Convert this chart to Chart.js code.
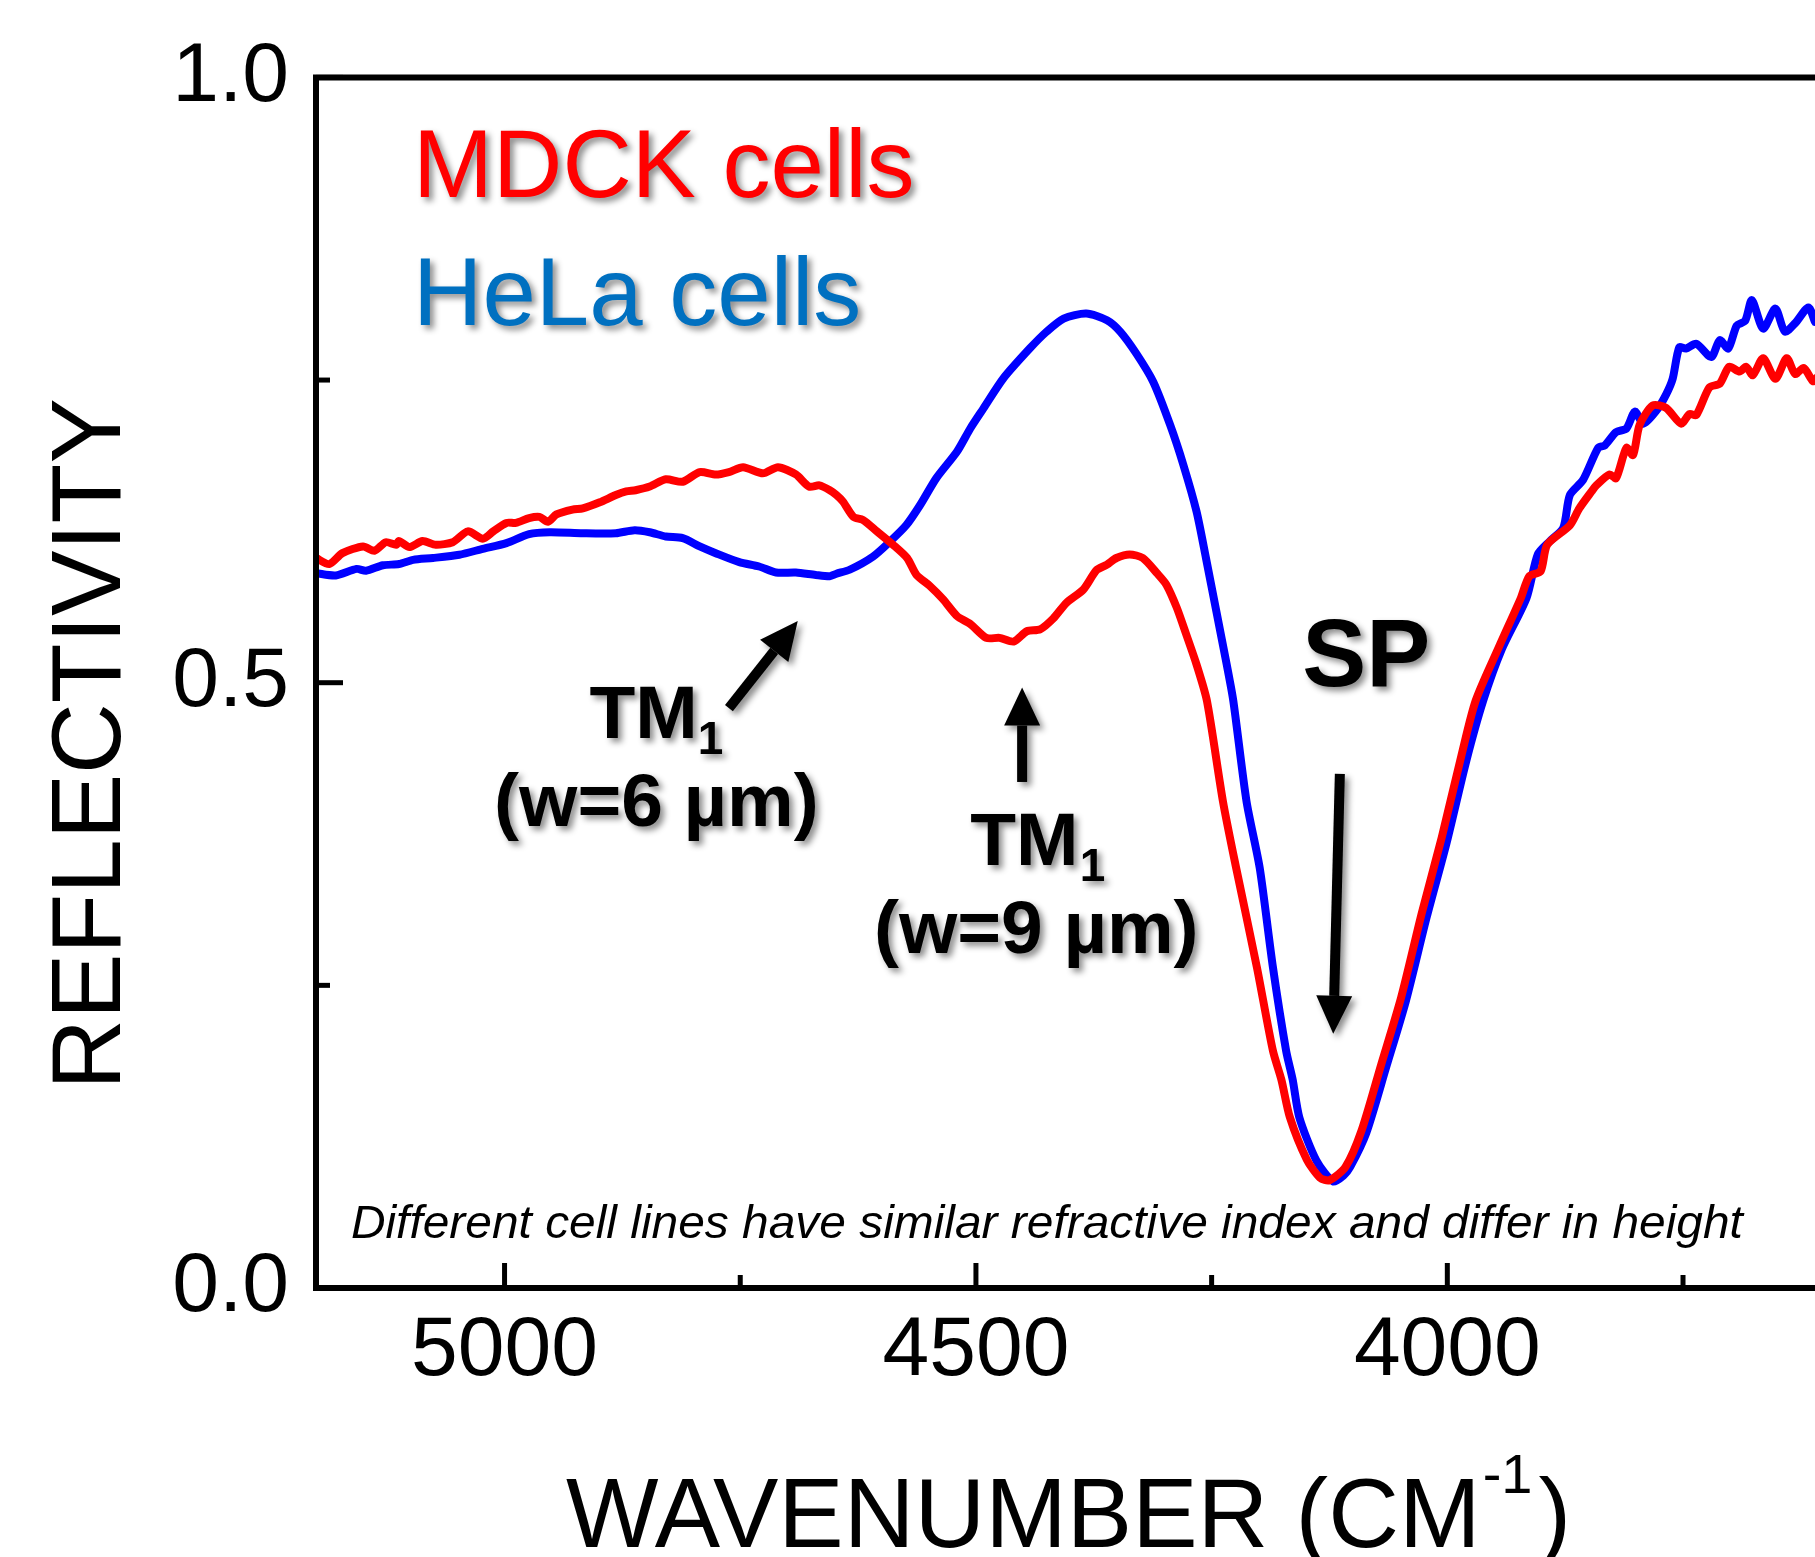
<!DOCTYPE html>
<html>
<head>
<meta charset="utf-8">
<script src="https://cdn.jsdelivr.net/npm/chart.js@4.4.0/dist/chart.umd.min.js"></script>
<style>
  html, body { margin: 0; padding: 0; background: #fff; overflow: hidden; }
  #wrap { width: 1815px; height: 1557px; position: relative; }
</style>
</head>
<body>
<div id="wrap"><canvas id="grafico"></canvas></div>
<script>
// wavenumber (cm-1) and reflectivity
const mdckWn = [5200, 5186, 5172, 5150, 5138, 5126, 5115, 5112, 5101, 5087, 5073, 5055, 5039, 5023, 5012, 4998, 4988, 4974, 4963, 4954, 4945, 4928, 4917, 4899, 4882, 4871, 4861, 4846, 4829, 4811, 4793, 4776, 4762, 4747, 4726, 4710, 4691, 4677, 4666, 4655, 4648, 4641, 4630, 4620, 4605, 4588, 4573, 4563, 4549, 4535, 4520, 4506, 4489, 4475, 4460, 4446, 4432, 4418, 4404, 4386, 4372, 4361, 4351, 4337, 4323, 4308, 4298, 4287, 4277, 4266, 4255, 4238, 4224, 4202, 4185, 4176, 4167, 4149, 4135, 4125, 4108, 4091, 4070, 4049, 4027, 4006, 3985, 3970, 3945, 3922, 3913, 3901, 3894, 3870, 3860, 3847, 3842, 3828, 3821, 3810, 3803, 3796, 3782, 3768, 3752, 3743, 3736, 3722, 3711, 3701, 3690, 3683, 3676, 3665, 3652, 3640, 3631, 3622, 3612, 3608];
const mdckR = [0.603, 0.598, 0.607, 0.6125, 0.609, 0.616, 0.614, 0.617, 0.612, 0.617, 0.614, 0.616, 0.625, 0.619, 0.625, 0.632, 0.632, 0.636, 0.637, 0.633, 0.639, 0.643, 0.644, 0.649, 0.655, 0.658, 0.659, 0.662, 0.668, 0.666, 0.674, 0.672, 0.674, 0.678, 0.673, 0.678, 0.672, 0.662, 0.663, 0.659, 0.655, 0.6496, 0.637, 0.6345, 0.625, 0.614, 0.603, 0.589, 0.580, 0.569, 0.555, 0.5485, 0.537, 0.537, 0.534, 0.5425, 0.544, 0.553, 0.566, 0.577, 0.593, 0.5975, 0.603, 0.606, 0.603, 0.5905, 0.581, 0.562, 0.540, 0.515, 0.485, 0.402, 0.347, 0.265, 0.196, 0.172, 0.141, 0.106, 0.091, 0.089, 0.100, 0.130, 0.185, 0.240, 0.310, 0.372, 0.440, 0.485, 0.530, 0.570, 0.588, 0.592, 0.614, 0.630, 0.644, 0.658, 0.663, 0.672, 0.669, 0.694, 0.688, 0.713, 0.729, 0.727, 0.714, 0.722, 0.721, 0.744, 0.747, 0.761, 0.757, 0.761, 0.754, 0.768, 0.751, 0.768, 0.755, 0.760, 0.749, 0.752];

const helaWn = [5200, 5179, 5157, 5147, 5129, 5112, 5097, 5076, 5048, 5023, 4998, 4974, 4952, 4917, 4882, 4862, 4846, 4829, 4811, 4793, 4776, 4751, 4730, 4712, 4691, 4670, 4655, 4648, 4634, 4609, 4591, 4574, 4559, 4542, 4520, 4506, 4492, 4471, 4443, 4425, 4407, 4383, 4361, 4347, 4330, 4312, 4294, 4280, 4266, 4256, 4245, 4234, 4227, 4213, 4199, 4185, 4171, 4164, 4157, 4139, 4121, 4110, 4103, 4086, 4065, 4044, 4022, 4001, 3980, 3962, 3942, 3916, 3904, 3891, 3877, 3870, 3856, 3840, 3833, 3821, 3810, 3801, 3792, 3778, 3768, 3761, 3754, 3747, 3736, 3720, 3711, 3702, 3693, 3684, 3677, 3665, 3652, 3642, 3631, 3617, 3610];
const helaR = [0.5905, 0.5886, 0.594, 0.5925, 0.597, 0.598, 0.6015, 0.603, 0.6057, 0.6106, 0.6153, 0.6227, 0.6243, 0.6235, 0.6235, 0.626, 0.6243, 0.6208, 0.6194, 0.6126, 0.607, 0.5996, 0.596, 0.591, 0.591, 0.589, 0.588, 0.590, 0.5933, 0.6043, 0.6167, 0.630, 0.647, 0.669, 0.691, 0.710, 0.7266, 0.7513, 0.776, 0.790, 0.8008, 0.805, 0.7994, 0.790, 0.772, 0.7486, 0.7129, 0.680, 0.6414, 0.6029, 0.559, 0.515, 0.485, 0.402, 0.347, 0.265, 0.196, 0.172, 0.141, 0.1055, 0.088, 0.093, 0.100, 0.128, 0.182, 0.237, 0.306, 0.367, 0.435, 0.485, 0.528, 0.570, 0.606, 0.617, 0.628, 0.655, 0.6675, 0.694, 0.696, 0.707, 0.710, 0.724, 0.714, 0.725, 0.738, 0.751, 0.777, 0.776, 0.780, 0.769, 0.783, 0.776, 0.795, 0.799, 0.816, 0.7925, 0.809, 0.790, 0.797, 0.810, 0.798];

const xTicks = [5000, 4750, 4500, 4250, 4000, 3750];
const xTickLabels = ['5000', '', '4500', '', '4000', ''];
const yTicks = [0, 0.25, 0.5, 0.75, 1.0];
const yTickLabels = ['0.0', '', '0.5', '', '1.0'];

const FONT = "'Liberation Sans', Arial, sans-serif";

function toPoints(xs, ys) {
  return xs.map((x, i) => ({ x: x, y: ys[i] }));
}

function shadowOn(ctx) {
  ctx.shadowColor = 'rgba(0,0,0,0.45)';
  ctx.shadowBlur = 6;
  ctx.shadowOffsetX = 4;
  ctx.shadowOffsetY = 4;
}

function label(ctx, txt, x, y, font, color, align) {
  ctx.save();
  ctx.font = font;
  ctx.fillStyle = color;
  ctx.textAlign = align || 'left';
  ctx.textBaseline = 'alphabetic';
  shadowOn(ctx);
  ctx.fillText(txt, x, y);
  ctx.restore();
}

function arrow(ctx, x1, y1, x2, y2) {
  const ang = Math.atan2(y2 - y1, x2 - x1);
  const hl = 38, hw = 18;
  const bx = x2 - hl * Math.cos(ang), by = y2 - hl * Math.sin(ang);
  ctx.save();
  shadowOn(ctx);
  ctx.strokeStyle = '#000';
  ctx.fillStyle = '#000';
  ctx.lineWidth = 10;
  ctx.beginPath();
  ctx.moveTo(x1, y1);
  ctx.lineTo(bx, by);
  ctx.stroke();
  ctx.beginPath();
  ctx.moveTo(x2, y2);
  ctx.lineTo(bx + hw * Math.sin(ang), by - hw * Math.cos(ang));
  ctx.lineTo(bx - hw * Math.sin(ang), by + hw * Math.cos(ang));
  ctx.closePath();
  ctx.fill();
  ctx.restore();
}

const extras = {
  id: 'extras',
  afterDraw(chart) {
    const ctx = chart.ctx;
    const a = chart.chartArea;
    const sx = chart.scales.x, sy = chart.scales.y;
    const X = v => sx.getPixelForValue(v);
    const Y = v => sy.getPixelForValue(v);

    ctx.save();
    // frame (left, top, bottom)
    ctx.strokeStyle = '#000';
    ctx.lineWidth = 6;
    ctx.lineJoin = 'miter';
    ctx.beginPath();
    ctx.moveTo(a.right + 10, a.top);
    ctx.lineTo(a.left, a.top);
    ctx.lineTo(a.left, a.bottom);
    ctx.lineTo(a.right + 10, a.bottom);
    ctx.stroke();

    // ticks pointing inward
    ctx.lineWidth = 5;
    sx.ticks.forEach((t, i) => {
      const x = X(t.value);
      const len = xTickLabels[i] ? 25 : 13;
      ctx.beginPath();
      ctx.moveTo(x, a.bottom);
      ctx.lineTo(x, a.bottom - len);
      ctx.stroke();
    });
    sy.ticks.forEach((t, i) => {
      const y = Y(t.value);
      const len = yTickLabels[i] ? 27 : 14;
      ctx.beginPath();
      ctx.moveTo(a.left, y);
      ctx.lineTo(a.left + len, y);
      ctx.stroke();
    });

    // axis titles
    ctx.fillStyle = '#000';
    ctx.save();
    ctx.translate(120, 744);
    ctx.rotate(-Math.PI / 2);
    ctx.font = '98px ' + FONT;
    ctx.textAlign = 'center';
    ctx.textBaseline = 'alphabetic';
    ctx.fillText('REFLECTIVITY', 0, 0);
    ctx.restore();

    ctx.textAlign = 'left';
    ctx.textBaseline = 'alphabetic';
    let tx = 566;
    ctx.font = '98px ' + FONT;
    ctx.fillText('WAVENUMBER (CM', tx, 1547);
    tx += ctx.measureText('WAVENUMBER (CM').width + 2;
    ctx.font = '56px ' + FONT;
    ctx.fillText('-1', tx, 1493);
    tx += ctx.measureText('-1').width + 6;
    ctx.font = '98px ' + FONT;
    ctx.fillText(')', tx, 1547);
    ctx.restore();

    // series names
    label(ctx, 'MDCK cells', X(5097), Y(0.901), '96px ' + FONT, '#ff0000');
    label(ctx, 'HeLa cells', X(5097), Y(0.7956), '96px ' + FONT, '#0070c0');

    // annotations
    const bold = s => 'bold ' + s + 'px ' + FONT;
    label(ctx, 'SP', X(4154), Y(0.497), bold(96), '#000');
    label(ctx, 'TM', X(4910), Y(0.4542), bold(75), '#000');
    label(ctx, '1', X(4795), Y(0.441), bold(46), '#000');
    label(ctx, '(w=6 \u00b5m)', X(4839), Y(0.3817), bold(75), '#000', 'center');
    label(ctx, 'TM', X(4506), Y(0.3495), bold(75), '#000');
    label(ctx, '1', X(4390), Y(0.3364), bold(46), '#000');
    label(ctx, '(w=9 \u00b5m)', X(4436), Y(0.277), bold(75), '#000', 'center');

    arrow(ctx, X(4762), Y(0.479), X(4689), Y(0.551));
    arrow(ctx, X(4451), Y(0.418), X(4451), Y(0.496));
    arrow(ctx, X(4114), Y(0.4246), X(4121), Y(0.210));

    // caption
    ctx.save();
    ctx.font = 'italic 46px ' + FONT;
    const cap = 'Different cell lines have similar refractive index and differ in height';
    const w = ctx.measureText(cap).width;
    const cx = X(5163), cy = Y(0.0412);
    ctx.translate(cx, cy);
    ctx.scale(1392 / w, 1);
    ctx.fillStyle = '#000';
    ctx.textAlign = 'left';
    ctx.fillText(cap, 0, 0);
    ctx.restore();
  }
};

const canvas = document.getElementById('grafico');
const ctx = canvas.getContext('2d');

new Chart(ctx, {
  type: 'line',
  data: {
    datasets: [
      {
        label: 'MDCK cells',
        data: toPoints(mdckWn, mdckR),
        borderColor: '#ff0000',
        borderWidth: 8,
        pointRadius: 0,
        tension: 0.25,
        borderJoinStyle: 'round',
        borderCapStyle: 'round',
        fill: false
      },
      {
        label: 'HeLa cells',
        data: toPoints(helaWn, helaR),
        borderColor: '#0000ff',
        borderWidth: 8,
        pointRadius: 0,
        tension: 0.25,
        borderJoinStyle: 'round',
        borderCapStyle: 'round',
        fill: false
      }
    ]
  },
  options: {
    responsive: true,
    maintainAspectRatio: false,
    animation: false,
    layout: { padding: { top: 74, left: 0, right: 0, bottom: 0 } },
    plugins: {
      legend: { display: false },
      tooltip: { enabled: false }
    },
    scales: {
      x: {
        type: 'linear',
        reverse: true,
        min: 3610,
        max: 5200,
        afterBuildTicks: s => { s.ticks = xTicks.map(v => ({ value: v })); },
        afterFit: s => { s.height = 269; },
        grid: { display: false, drawTicks: false },
        border: { display: false },
        ticks: {
          autoSkip: false,
          maxRotation: 0,
          padding: 13,
          color: '#000',
          font: { family: FONT, size: 84 },
          callback: (v, i) => xTickLabels[i]
        }
      },
      y: {
        min: 0,
        max: 1,
        afterBuildTicks: s => { s.ticks = yTicks.map(v => ({ value: v })); },
        afterFit: s => { s.width = 316; },
        grid: { display: false, drawTicks: false },
        border: { display: false },
        ticks: {
          autoSkip: false,
          padding: 27,
          color: '#000',
          font: { family: FONT, size: 84 },
          callback: (v, i) => yTickLabels[i]
        }
      }
    }
  },
  plugins: [extras]
});
</script>
</body>
</html>
